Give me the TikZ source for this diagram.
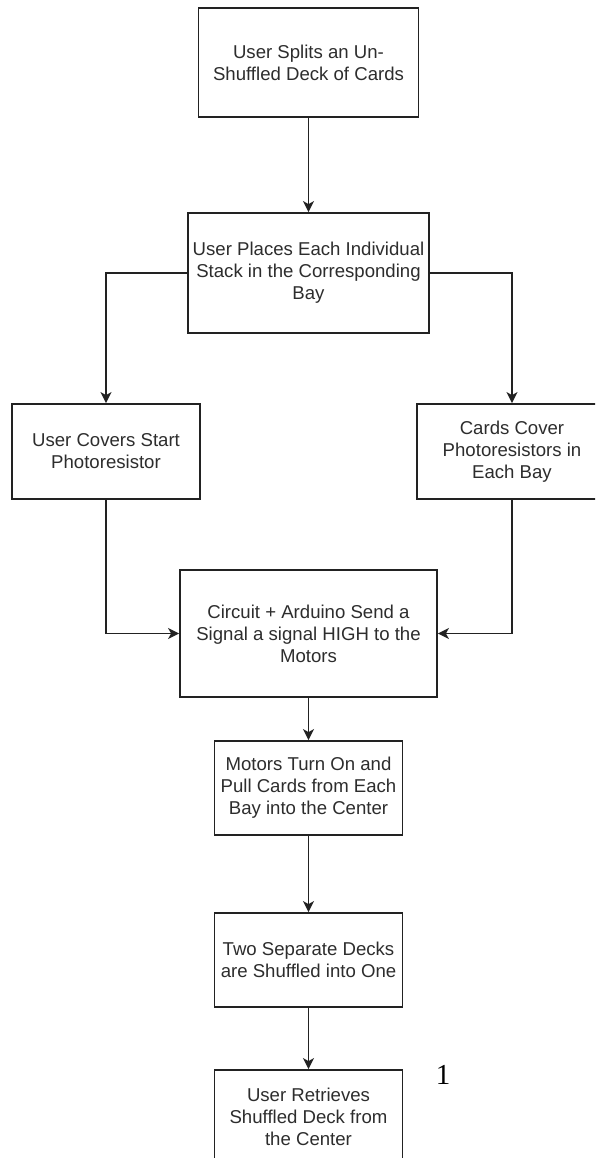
\documentclass[tikz,border=0pt]{standalone}
\usepackage{fontspec}
\setmainfont{Liberation Sans}
\newfontfamily\numfont{Liberation Serif}
\usetikzlibrary{arrows.meta}
\definecolor{linec}{RGB}{34,34,34}
\definecolor{textc}{RGB}{45,45,45}
\tikzset{
  stepbox/.style={draw=linec, line width=1.8pt, fill=white, align=center,
    inner sep=0pt, text=textc, font=\fontsize{18.6}{22}\selectfont},
  flow/.style={draw=linec, line width=1.8pt,
    -{Stealth[length=11pt, width=11pt, inset=3pt]}}
}
\begin{document}
\begin{tikzpicture}[x=1pt, y=-1pt]
  \useasboundingbox (0,0) rectangle (595,1158);
  \clip (0,0) rectangle (595,1158);
  \fill[white] (0,0) rectangle (595,1158);

  % process steps
  \node[stepbox, minimum width=220pt, minimum height=109pt] (split) at (308.5,62.5)
    {User Splits an Un-\\Shuffled Deck of Cards};
  \node[stepbox, minimum width=241pt, minimum height=120pt] (place) at (308.5,273)
    {User Places Each Individual\\Stack in the Corresponding\\Bay};
  \node[stepbox, minimum width=188pt, minimum height=95pt] (cover) at (106,451.5)
    {User Covers Start\\Photoresistor};
  \node[stepbox, minimum width=190pt, minimum height=95pt] (bays) at (512,451.5)
    {Cards Cover\\Photoresistors in\\Each Bay};
  \node[stepbox, minimum width=257pt, minimum height=127pt] (signal) at (308.5,633.5)
    {Circuit + Arduino Send a\\Signal a signal HIGH to the\\Motors};
  \node[stepbox, minimum width=188pt, minimum height=94pt] (motors) at (308.5,788)
    {Motors Turn On and\\Pull Cards from Each\\Bay into the Center};
  \node[stepbox, minimum width=188pt, minimum height=94pt] (merge) at (308.5,960)
    {Two Separate Decks\\are Shuffled into One};
  \node[stepbox, minimum width=188pt, minimum height=94pt] (retrieve) at (308.5,1117)
    {User Retrieves\\Shuffled Deck from\\the Center};

  % page number
  \node[text=black, font=\numfont\fontsize{29}{30}\selectfont, inner sep=0pt] (pagenum) at (443,1075) {1};

  % connectors
  \draw[flow] (split.south) -- (place.north);
  \draw[flow] (place.west) -| (cover.north);
  \draw[flow] (place.east) -| (bays.north);
  \draw[flow] (cover.south) |- (signal.west);
  \draw[flow] (bays.south) |- (signal.east);
  \draw[flow] (signal.south) -- (motors.north);
  \draw[flow] (motors.south) -- (merge.north);
  \draw[flow] (merge.south) -- (retrieve.north);
\end{tikzpicture}
\end{document}
